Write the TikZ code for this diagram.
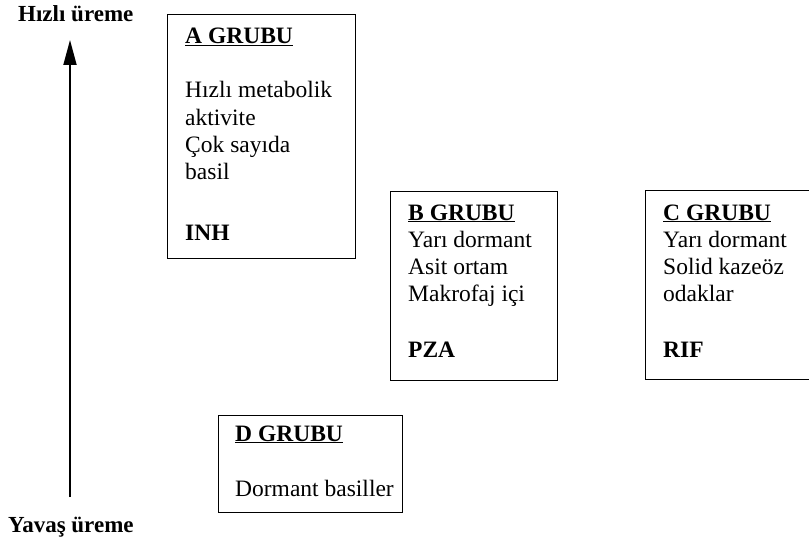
\documentclass[tikz,border=0pt]{standalone}
\usepackage{fontspec}
\setmainfont{Liberation Serif}
\usetikzlibrary{arrows.meta}
\begin{document}
\begin{tikzpicture}[x=1pt,y=-1pt,
  box/.style={draw, line width=1.4pt, inner sep=0pt, anchor=north west},
  txt/.style={anchor=base west, inner sep=0pt, font=\fontsize{23.5}{27}\selectfont},
  ttl/.style={anchor=base west, inner sep=0pt, font=\fontsize{23.5}{27}\selectfont\bfseries},
  lbl/.style={anchor=base west, inner sep=0pt, font=\fontsize{23}{27}\selectfont\bfseries},
  axisarrow/.style={line width=1.8pt, -{Triangle[length=25pt,width=13pt]}}]
\useasboundingbox (0,0) rectangle (809,543);
\clip (0,0) rectangle (809,543);

% axis labels and arrow
\node[lbl] (fast) at (18,22) {Hızlı üreme};
\node[lbl] (slow) at (8,532) {Yavaş üreme};
\coordinate (tail) at (70,497);
\coordinate (tip) at (70,40);
\draw[axisarrow] (tail) -- (tip);

% A group
\node[box, minimum width=188pt, minimum height=244pt] (A) at (167,14) {};
\node[ttl] (a0) at (185,44) {\underline{A GRUBU}};
\node[txt] (a1) at (185,98) {Hızlı metabolik};
\node[txt] (a2) at (185,125) {aktivite};
\node[txt] (a3) at (185,152) {Çok sayıda};
\node[txt] (a4) at (185,179) {basil};
\node[ttl] (a5) at (185,240) {INH};

% B group
\node[box, minimum width=167pt, minimum height=189pt] (B) at (390,191) {};
\node[ttl] (b0) at (408,220) {\underline{B GRUBU}};
\node[txt] (b1) at (408,247) {Yarı dormant};
\node[txt] (b2) at (408,274) {Asit ortam};
\node[txt] (b3) at (408,301) {Makrofaj içi};
\node[ttl] (b4) at (408,357) {PZA};

% C group
\node[box, minimum width=175pt, minimum height=189pt] (C) at (645,190) {};
\node[ttl] (c0) at (663,220) {\underline{C GRUBU}};
\node[txt] (c1) at (663,247) {Yarı dormant};
\node[txt] (c2) at (663,274) {Solid kazeöz};
\node[txt] (c3) at (663,301) {odaklar};
\node[ttl] (c4) at (663,357) {RIF};

% D group
\node[box, minimum width=184pt, minimum height=97pt] (D) at (218,415) {};
\node[ttl] (d0) at (235,441) {\underline{D GRUBU}};
\node[txt] (d1) at (235,496) {Dormant basiller};
\end{tikzpicture}
\end{document}
